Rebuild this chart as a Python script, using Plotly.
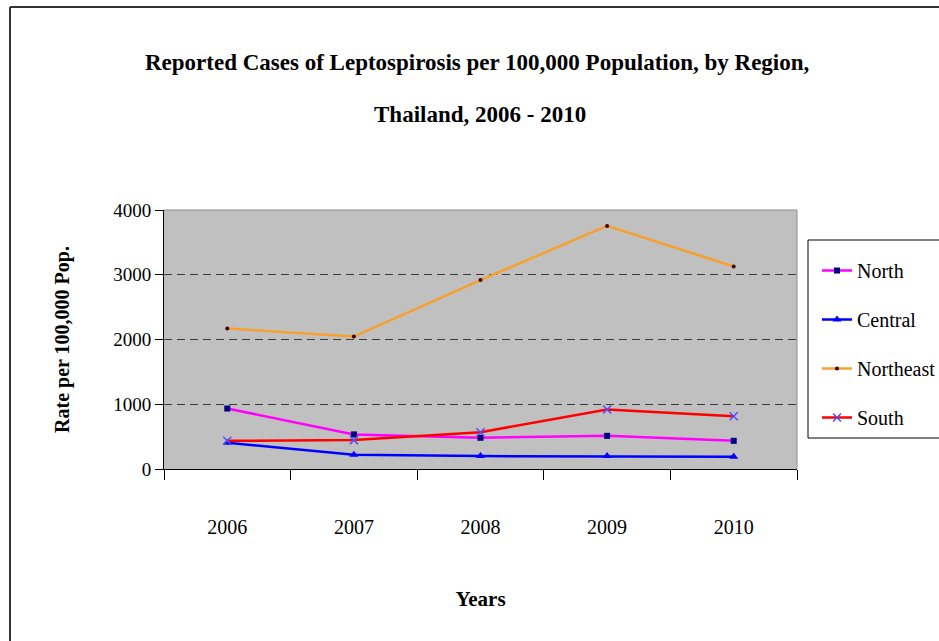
import plotly.graph_objects as go

years = ["2006", "2007", "2008", "2009", "2010"]
north = [934, 534, 482, 512, 435]
central = [405, 220, 200, 200, 189]
northeast = [2169, 2046, 2918, 3754, 3128]
south = [435, 446, 569, 918, 815]
yticks = [0, 1000, 2000, 3000, 4000]

FONT = "Liberation Serif"

fig = go.Figure()
series = [
    ("North", north, "#FF00FF", dict(symbol="square", size=6, color="#000080")),
    ("Central", central, "#0000FF", dict(symbol="triangle-up", size=8, color="#0000FF")),
    ("Northeast", northeast, "#F7A02C", dict(symbol="circle", size=4, color="#400000")),
    ("South", south, "#FF0000", dict(symbol="x-thin", size=8, color="#5050FF",
                                      line=dict(width=1.5, color="#5050FF"))),
]
for name, vals, col, mk in series:
    fig.add_trace(go.Scatter(
        x=years, y=vals, name=name, mode="lines+markers",
        line=dict(color=col, width=2.5), marker=mk, legendgroup=name,
    ))

L, R, T, B = 164, 142, 210, 172
PW, PH = 939 - L - R, 641 - T - B

def px(x):
    return (x - L) / PW

def py(y):
    return (469 - y) / PH

fig.update_layout(
    width=939, height=641,
    margin=dict(l=L, r=R, t=T, b=B, autoexpand=False),
    paper_bgcolor="white", plot_bgcolor="#C0C0C0",
    font=dict(family=FONT, size=18, color="black"),
    showlegend=True,
    legend=dict(
        x=px(817), y=py(251), xanchor="left", yanchor="top",
        borderwidth=0, bgcolor="rgba(0,0,0,0)",
        font=dict(family=FONT, size=20, color="black"),
        traceorder="grouped", tracegroupgap=20, itemwidth=30,
    ),
    xaxis=dict(
        type="category", tickson="boundaries", ticks="outside", ticklen=10,
        tickcolor="black", tickwidth=1, showgrid=False, showline=True,
        linecolor="black", linewidth=1, ticklabelstandoff=40,
        tickfont=dict(family=FONT, size=20), range=[-0.5, 4.5],
        title=dict(text="<b>Years</b>", standoff=54,
                   font=dict(family=FONT, size=21)),
    ),
    yaxis=dict(
        range=[0, 4000], tickvals=yticks, ticks="outside", ticklen=8,
        tickcolor="black", showline=True, linecolor="black", linewidth=1,
        showgrid=True, gridcolor="#3A3A3A", griddash="8px,5px", gridwidth=1,
        zeroline=False, tickfont=dict(family=FONT, size=19),
        title=dict(text="<b>Rate per 100,000 Pop.</b>", standoff=38,
                   font=dict(family=FONT, size=20)),
    ),
)

# plot-area border (top / right in gray)
fig.add_shape(type="line", xref="paper", yref="paper", x0=0, x1=1, y0=1, y1=1,
              line=dict(color="#8C8C8C", width=1))
fig.add_shape(type="line", xref="paper", yref="paper", x0=1, x1=1, y0=0, y1=1,
              line=dict(color="#8C8C8C", width=1))
# legend box
fig.add_shape(type="rect", xref="paper", yref="paper",
              x0=px(808), x1=px(950), y0=py(240), y1=py(438),
              line=dict(color="black", width=1), fillcolor="white", layer="below")
# outer chart border (top & left)
fig.add_shape(type="line", xref="paper", yref="paper",
              x0=px(10), x1=px(945), y0=py(7), y1=py(7),
              line=dict(color="#333333", width=2))
fig.add_shape(type="line", xref="paper", yref="paper",
              x0=px(10), x1=px(10), y0=py(7), y1=py(650),
              line=dict(color="#333333", width=2))

fig.add_annotation(text="<b>Reported Cases of Leptospirosis per 100,000 Population, by Region,</b>",
                   xref="paper", yref="paper", x=px(477), y=py(62),
                   showarrow=False, font=dict(family=FONT, size=23),
                   xanchor="center", yanchor="middle")
fig.add_annotation(text="<b>Thailand, 2006 - 2010</b>",
                   xref="paper", yref="paper", x=px(480), y=py(114),
                   showarrow=False, font=dict(family=FONT, size=23),
                   xanchor="center", yanchor="middle")

fig.write_html("out.html")
